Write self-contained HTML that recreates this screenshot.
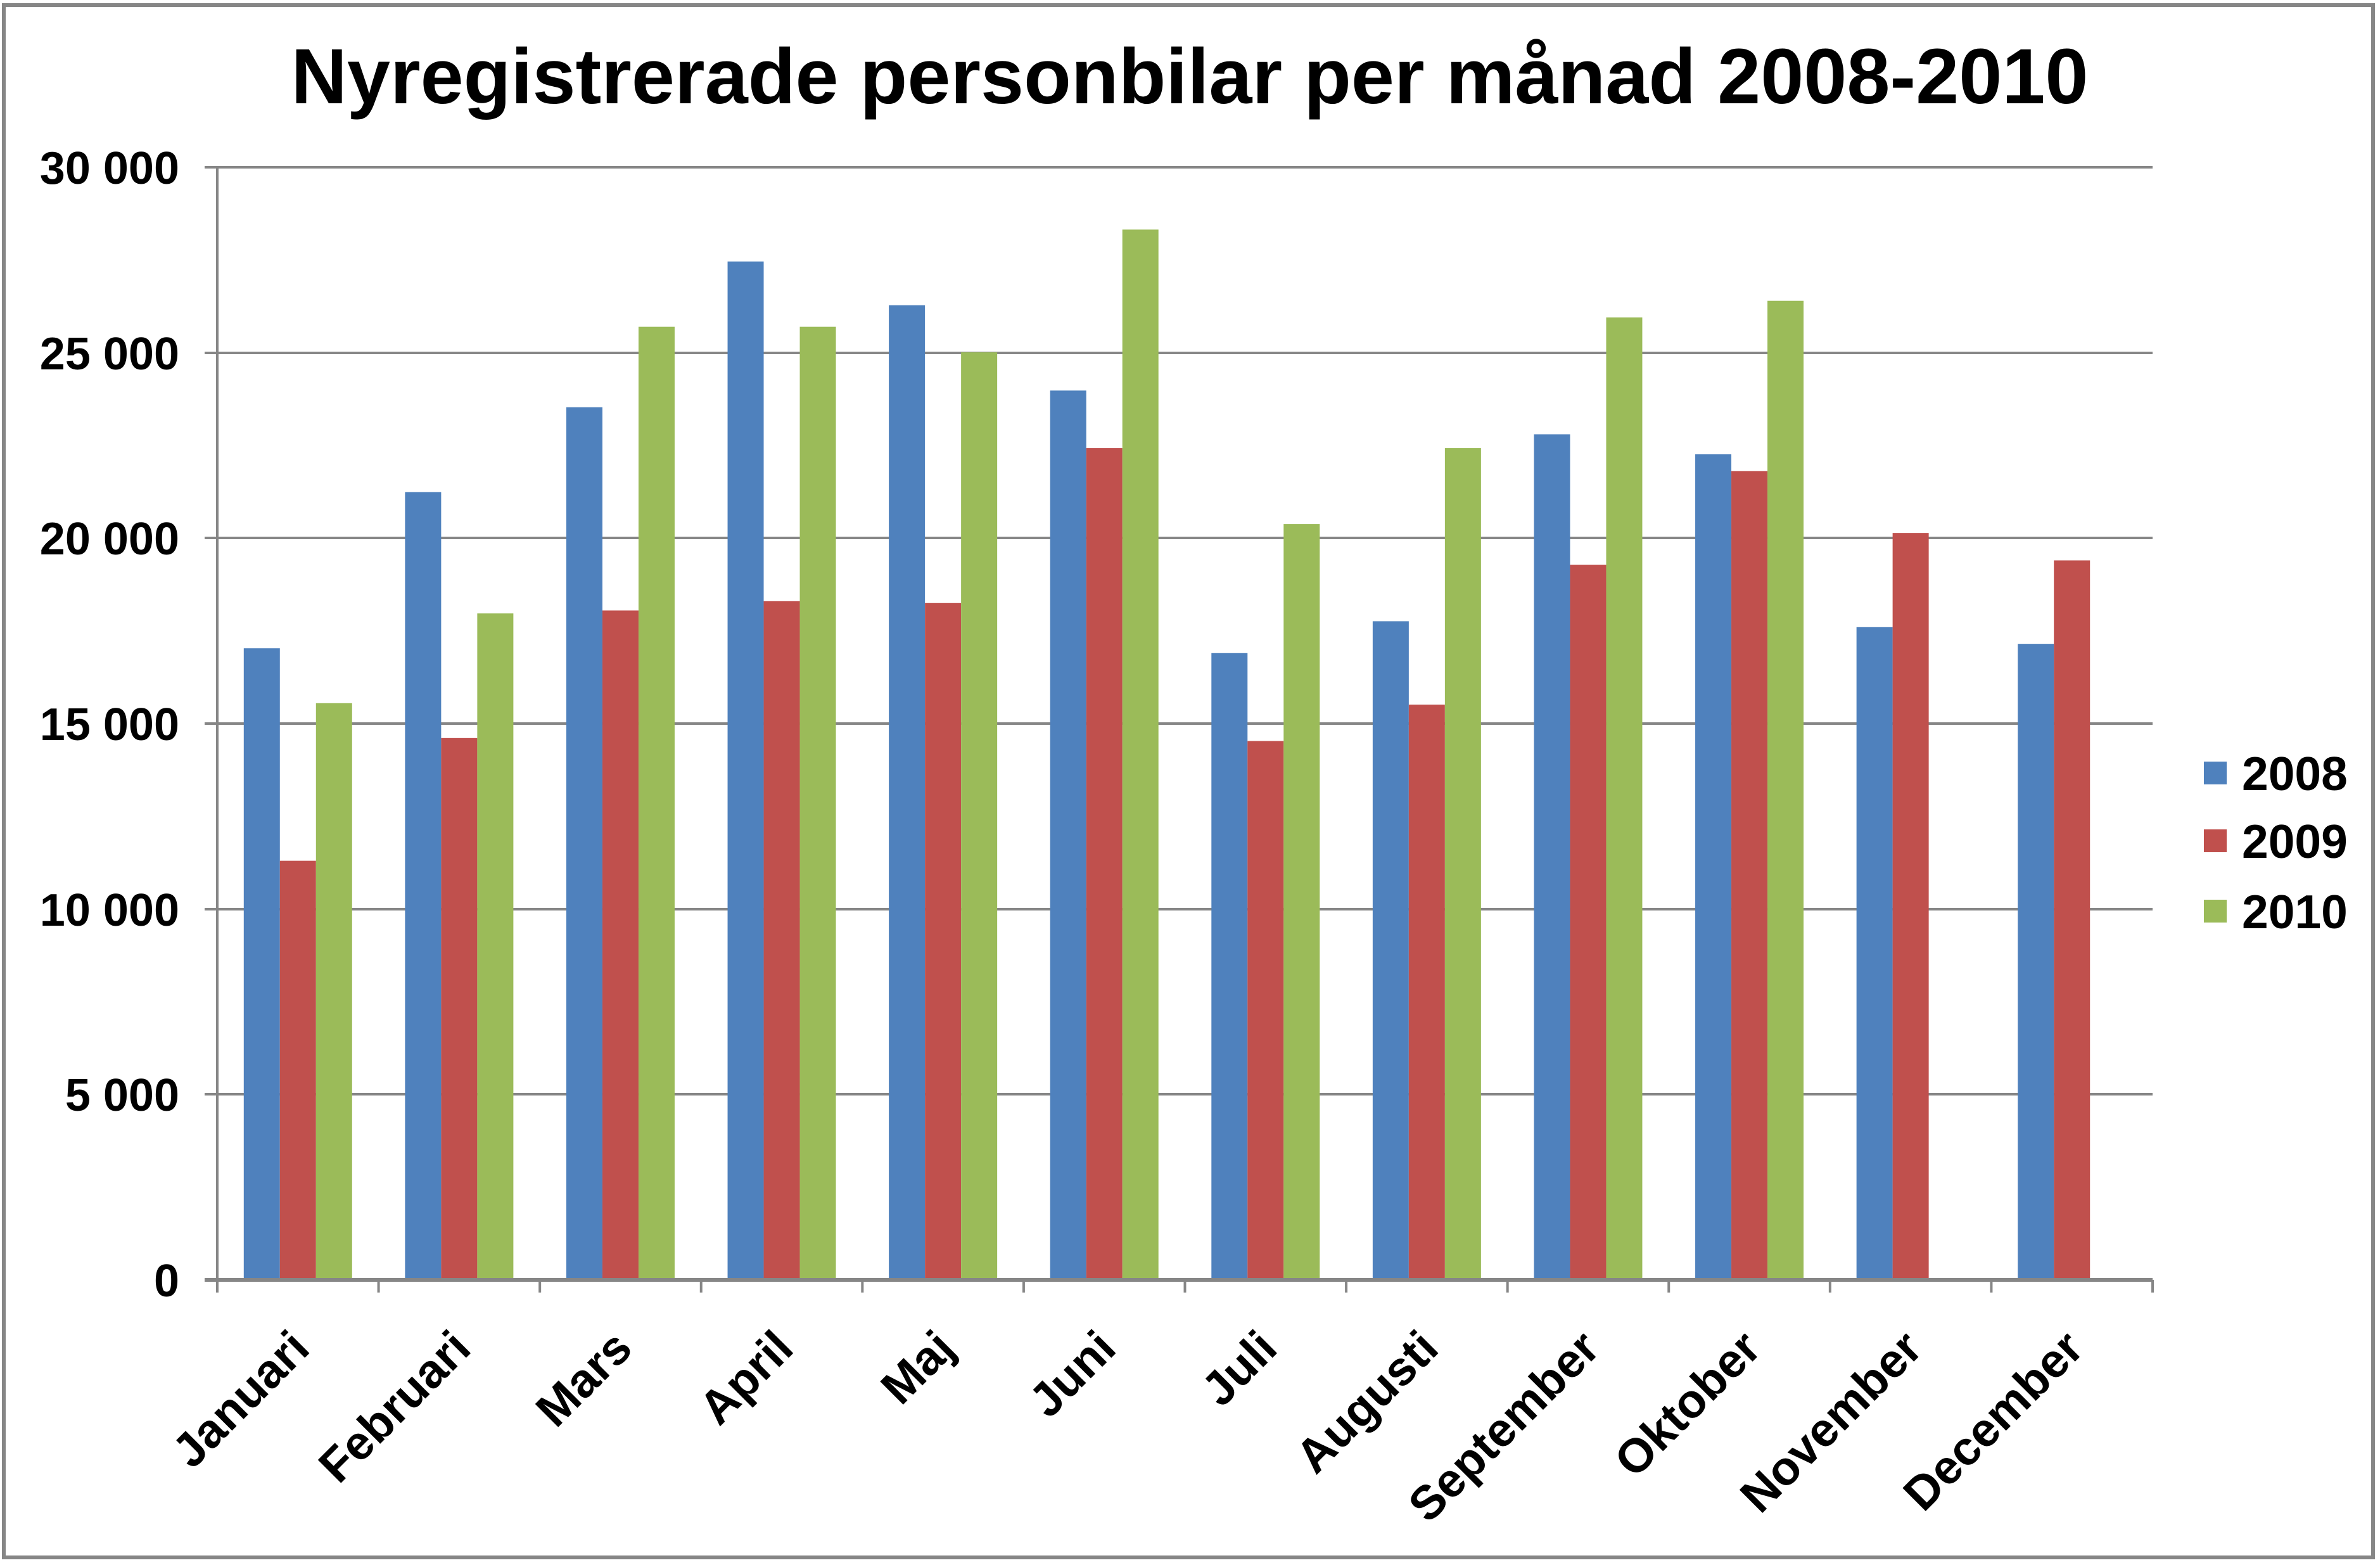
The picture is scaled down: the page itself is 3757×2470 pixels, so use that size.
<!DOCTYPE html>
<html><head><meta charset="utf-8"><style>html,body{margin:0;padding:0;background:#fff}svg{display:block}</style></head>
<body>
<svg width="3757" height="2470" viewBox="0 0 3757 2470" xmlns="http://www.w3.org/2000/svg" font-family="Liberation Sans, Arial, sans-serif" font-weight="bold">
<rect x="6" y="8" width="3740" height="2450" fill="#fff" stroke="#868686" stroke-width="6"/>
<text x="1878" y="163" font-size="123" text-anchor="middle" textLength="2837" lengthAdjust="spacingAndGlyphs">Nyregistrerade personbilar per månad 2008-2010</text>
<g stroke="#868686" stroke-width="4">
<line x1="323" y1="264" x2="3398" y2="264"/>
<line x1="323" y1="557" x2="3398" y2="557"/>
<line x1="323" y1="849" x2="3398" y2="849"/>
<line x1="323" y1="1142" x2="3398" y2="1142"/>
<line x1="323" y1="1435" x2="3398" y2="1435"/>
<line x1="323" y1="1727" x2="3398" y2="1727"/>
<line x1="343" y1="264" x2="343" y2="2040"/>
</g>
<g font-size="72" text-anchor="end">
<text x="283" y="290">30 000</text>
<text x="283" y="583">25 000</text>
<text x="283" y="875">20 000</text>
<text x="283" y="1168">15 000</text>
<text x="283" y="1461">10 000</text>
<text x="283" y="1753">5 000</text>
<text x="283" y="2046">0</text>
</g>
<g id="bars"></g>
<g stroke="#868686" stroke-width="6"><line x1="323" y1="2020" x2="3398" y2="2020"/></g>
<g id="ticks" stroke="#868686" stroke-width="4"></g>
<g id="xl" font-size="75" text-anchor="end"></g>
<rect x="3479" y="1202" width="36" height="36" fill="#4f81bd"/>
<rect x="3479" y="1309" width="36" height="36" fill="#c0504d"/>
<rect x="3479" y="1420" width="36" height="36" fill="#9bbb59"/>
<g font-size="75"><text x="3539" y="1247">2008</text><text x="3539" y="1354">2009</text><text x="3539" y="1465">2010</text></g>
<script>
var d=[[17030,11300,15550],[21240,14610,17970],[23530,18050,25700],[27460,18300,25700],[26280,18250,25010],[23980,22430,28320],[16900,14530,20380],[17760,15510,22430],[22800,19280,25950],[22260,21810,26400],[17600,20140,null],[17150,19400,null]];
var m=["Januari","Februari","Mars","April","Maj","Juni","Juli","Augusti","September","Oktober","November","December"];
var c=["#4f81bd","#c0504d","#9bbb59"],ns="http://www.w3.org/2000/svg";
var cw=(3398-343)/12,bw=57,b=document.getElementById("bars"),t=document.getElementById("ticks"),xl=document.getElementById("xl");
for(var i=0;i<12;i++){var x0=343+i*cw+(cw-3*bw)/2;
for(var j=0;j<3;j++){if(d[i][j]==null)continue;var h=d[i][j]/30000*1756;var r=document.createElementNS(ns,"rect");
r.setAttribute("x",x0+j*bw);r.setAttribute("y",2020-h);r.setAttribute("width",bw);r.setAttribute("height",h);r.setAttribute("fill",c[j]);b.appendChild(r);}
var l=document.createElementNS(ns,"line");var tx=343+(i+1)*cw;l.setAttribute("x1",tx);l.setAttribute("x2",tx);l.setAttribute("y1",2020);l.setAttribute("y2",2040);t.appendChild(l);
var cx=343+(i+0.5)*cw+22,cy=2132;var tt=document.createElementNS(ns,"text");tt.setAttribute("x",cx);tt.setAttribute("y",cy);tt.setAttribute("transform","rotate(-45 "+cx+" "+cy+")");tt.textContent=m[i];xl.appendChild(tt);}
</script>
</svg>
</body></html>
